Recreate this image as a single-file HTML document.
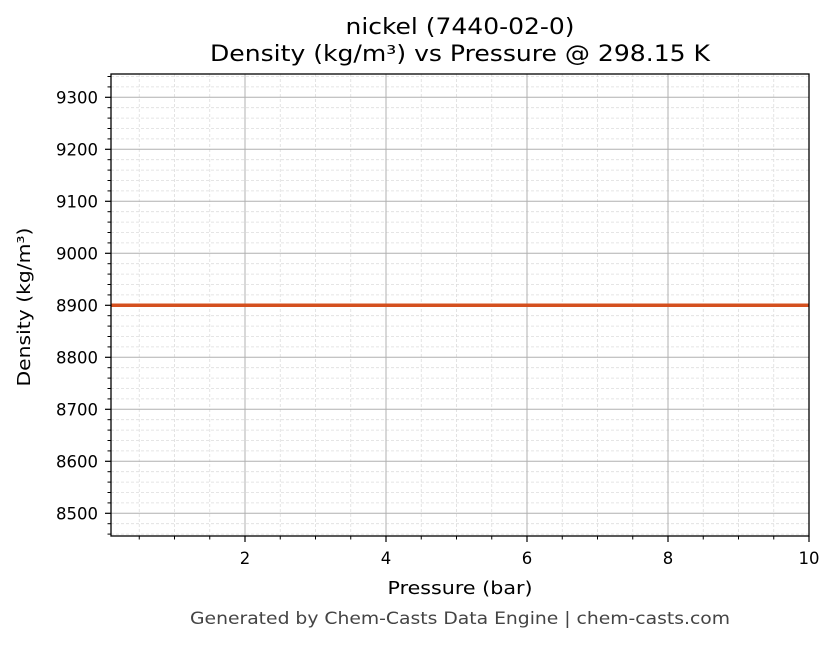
<!DOCTYPE html>
<html><head><meta charset="utf-8"><style>
body{margin:0;background:#fff;}
text{font-family:"DejaVu Sans","Liberation Sans",sans-serif;}
</style></head><body>
<svg id="s" width="836" height="644" xmlns="http://www.w3.org/2000/svg">
<rect width="836" height="644" fill="#fff"/>
<g id="g"></g>
<text x="460" y="34" font-size="22" text-anchor="middle" fill="#000" textLength="229" lengthAdjust="spacingAndGlyphs">nickel (7440-02-0)</text>
<text x="460" y="61" font-size="22" text-anchor="middle" fill="#000" textLength="500" lengthAdjust="spacingAndGlyphs">Density (kg/m³) vs Pressure @ 298.15 K</text>
<text x="460" y="594" font-size="18" text-anchor="middle" fill="#000" textLength="145" lengthAdjust="spacingAndGlyphs">Pressure (bar)</text>
<text transform="translate(30,307) rotate(-90)" font-size="18" text-anchor="middle" fill="#000" textLength="159" lengthAdjust="spacingAndGlyphs">Density (kg/m³)</text>
<text x="460" y="624" font-size="17" text-anchor="middle" fill="#444" textLength="540" lengthAdjust="spacingAndGlyphs">Generated by Chem-Casts Data Engine | chem-casts.com</text>
</svg>
<script>
var g=document.getElementById('g'),h='';
var L=111,R=809,T=74,B=536;
function X(v){return 104+v*70.5;}
function Y(v){return 97.3+(9300-v)*0.52;}
for(var v=0.5;v<10;v+=0.5){if(v%2==0)continue;var x=X(v);if(x<L)continue;h+='<line x1="'+x+'" y1="'+T+'" x2="'+x+'" y2="'+B+'" stroke="#ddd" stroke-width="0.8" stroke-dasharray="3,2"/>';}
for(var v=8460;v<=9340;v+=20){if(v%100==0)continue;var y=Y(v);h+='<line x1="'+L+'" y1="'+y+'" x2="'+R+'" y2="'+y+'" stroke="#ddd" stroke-width="0.8" stroke-dasharray="3,2"/>';}
for(var v=2;v<=10;v+=2){var x=X(v);h+='<line x1="'+x+'" y1="'+T+'" x2="'+x+'" y2="'+B+'" stroke="#b0b0b0" stroke-width="1"/>';h+='<line x1="'+x+'" y1="'+B+'" x2="'+x+'" y2="'+(B+6)+'" stroke="#000" stroke-width="1.2"/>';h+='<text x="'+x+'" y="'+(B+28)+'" font-size="16.5" text-anchor="middle">'+v+'</text>';}
for(var v=0.5;v<10;v+=0.5){if(v%2==0)continue;var x=X(v);if(x<L)continue;h+='<line x1="'+x+'" y1="'+B+'" x2="'+x+'" y2="'+(B+3.5)+'" stroke="#000" stroke-width="1"/>';}
for(var v=8500;v<=9300;v+=100){var y=Y(v);h+='<line x1="'+L+'" y1="'+y+'" x2="'+R+'" y2="'+y+'" stroke="#b0b0b0" stroke-width="1"/>';h+='<line x1="'+(L-6)+'" y1="'+y+'" x2="'+L+'" y2="'+y+'" stroke="#000" stroke-width="1.2"/>';h+='<text x="'+(L-13)+'" y="'+(y+6)+'" font-size="16.5" text-anchor="end">'+v+'</text>';}
for(var v=8460;v<=9340;v+=20){if(v%100==0)continue;var y=Y(v);h+='<line x1="'+(L-3.5)+'" y1="'+y+'" x2="'+L+'" y2="'+y+'" stroke="#000" stroke-width="1"/>';}
h+='<line x1="'+L+'" y1="'+Y(8900)+'" x2="'+R+'" y2="'+Y(8900)+'" stroke="#d4501f" stroke-width="3.5"/>';
h+='<rect x="'+L+'" y="'+T+'" width="'+(R-L)+'" height="'+(B-T)+'" fill="none" stroke="#000" stroke-width="1.3"/>';
g.innerHTML=h;
</script>
</body></html>
